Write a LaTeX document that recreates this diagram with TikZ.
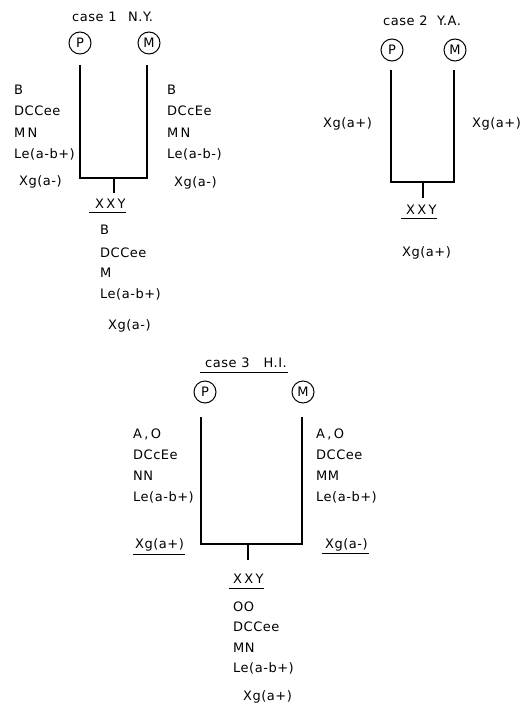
\documentclass[tikz,border=0pt]{standalone}
\usepackage{fontspec}
\setmainfont[LetterSpace=4]{DejaVu Sans}
\newcommand\lblfont{\fontsize{13}{15}\selectfont}
\tikzset{
  lbl/.style={anchor=base west, inner sep=0pt, font=\lblfont},
  wide/.style={font=\lblfont\addfontfeature{LetterSpace=18}},
  parent/.style={draw, circle, minimum size=22pt, inner sep=0pt, line width=1pt, font=\lblfont},
  pedline/.style={line width=1.3pt},
  uline/.style={line width=1pt}
}
\begin{document}
\begin{tikzpicture}[x=1pt,y=-1pt]
\useasboundingbox (0,0) rectangle (522,706);

% ---------------- case 1 ----------------
\node[lbl] (t1a) at (72,22) {case 1};
\node[lbl] (t1b) at (128,22) {N.Y.};
\node[parent] (p1) at (80,43) {P};
\node[parent] (m1) at (149,43) {M};
\coordinate (p1top) at (80,65);
\coordinate (p1bot) at (80,178);
\coordinate (m1bot) at (147,178);
\coordinate (m1top) at (147,65);
\coordinate (s1top) at (114,178);
\coordinate (s1bot) at (114,193);
\draw[pedline] (p1top) -- (p1bot) -- (m1bot) -- (m1top);
\draw[pedline] (s1top) -- (s1bot);

\node[lbl] (l1a) at (14,95) {B};
\node[lbl] (l1b) at (14,115) {DCCee};
\node[lbl,wide] (l1c) at (14,137) {MN};
\node[lbl] (l1d) at (14,158) {Le(a-b+)};
\node[lbl] (l1e) at (19,185) {Xg(a-)};

\node[lbl] (r1a) at (167,95) {B};
\node[lbl] (r1b) at (167,115) {DCcEe};
\node[lbl,wide] (r1c) at (167,137) {MN};
\node[lbl] (r1d) at (167,158) {Le(a-b-)};
\node[lbl] (r1e) at (174,186) {Xg(a-)};

\node[lbl,wide] (x1) at (95,208) {XXY};
\draw[uline] ([xshift=-6pt,yshift=-4pt]x1.base west) -- ([xshift=0pt,yshift=-4pt]x1.base east);
\node[lbl] (c1a) at (100,234) {B};
\node[lbl] (c1b) at (100,257) {DCCee};
\node[lbl] (c1c) at (100,277) {M};
\node[lbl] (c1d) at (100,298) {Le(a-b+)};
\node[lbl] (c1e) at (108,329) {Xg(a-)};

% ---------------- case 2 ----------------
\node[lbl] (t2a) at (383,26) {case 2};
\node[lbl] (t2b) at (437,26) {Y.A.};
\node[parent] (p2) at (392,50) {P};
\node[parent] (m2) at (455,50) {M};
\coordinate (p2top) at (391,70);
\coordinate (p2bot) at (391,182);
\coordinate (m2bot) at (454,182);
\coordinate (m2top) at (454,70);
\coordinate (s2top) at (423,182);
\coordinate (s2bot) at (423,198);
\draw[pedline] (p2top) -- (p2bot) -- (m2bot) -- (m2top);
\draw[pedline] (s2top) -- (s2bot);
\node[lbl] (l2a) at (323,128) {Xg(a+)};
\node[lbl] (r2a) at (472,128) {Xg(a+)};
\node[lbl,wide] (x2) at (406,214) {XXY};
\draw[uline] ([xshift=-5pt,yshift=-4pt]x2.base west) -- ([xshift=0pt,yshift=-4pt]x2.base east);
\node[lbl] (c2a) at (402,256) {Xg(a+)};

% ---------------- case 3 ----------------
\node[lbl] (t3) at (205,367) {case 3\hspace{14pt}H.I.};
\draw[uline] ([xshift=-5pt,yshift=-5pt]t3.base west) -- ([xshift=1pt,yshift=-5pt]t3.base east);
\node[parent] (p3) at (205,392) {P};
\node[parent] (m3) at (303,392) {M};
\coordinate (p3top) at (201,417);
\coordinate (p3bot) at (201,544);
\coordinate (m3bot) at (302,544);
\coordinate (m3top) at (302,417);
\coordinate (s3top) at (248,544);
\coordinate (s3bot) at (248,560);
\draw[pedline] (p3top) -- (p3bot) -- (m3bot) -- (m3top);
\draw[pedline] (s3top) -- (s3bot);

\node[lbl,wide] (l3a) at (133,438) {A,O};
\node[lbl] (l3b) at (133,459) {DCcEe};
\node[lbl] (l3c) at (133,480) {NN};
\node[lbl] (l3d) at (133,501) {Le(a-b+)};
\node[lbl] (l3e) at (135,548) {Xg(a+)};
\draw[uline] ([xshift=-2pt,yshift=-6pt]l3e.base west) -- ([xshift=1pt,yshift=-6pt]l3e.base east);

\node[lbl,wide] (r3a) at (316,438) {A,O};
\node[lbl] (r3b) at (316,459) {DCCee};
\node[lbl] (r3c) at (316,480) {MM};
\node[lbl] (r3d) at (316,501) {Le(a-b+)};
\node[lbl] (r3e) at (325,548) {Xg(a-)};
\draw[uline] ([xshift=-3pt,yshift=-5pt]r3e.base west) -- ([xshift=1pt,yshift=-5pt]r3e.base east);

\node[lbl,wide] (x3) at (233,583) {XXY};
\draw[uline] ([xshift=-4pt,yshift=-5pt]x3.base west) -- ([xshift=0pt,yshift=-5pt]x3.base east);
\node[lbl] (c3a) at (233,611) {OO};
\node[lbl] (c3b) at (233,631) {DCCee};
\node[lbl] (c3c) at (233,652) {MN};
\node[lbl] (c3d) at (233,672) {Le(a-b+)};
\node[lbl] (c3e) at (243,700) {Xg(a+)};
\end{tikzpicture}
\end{document}
